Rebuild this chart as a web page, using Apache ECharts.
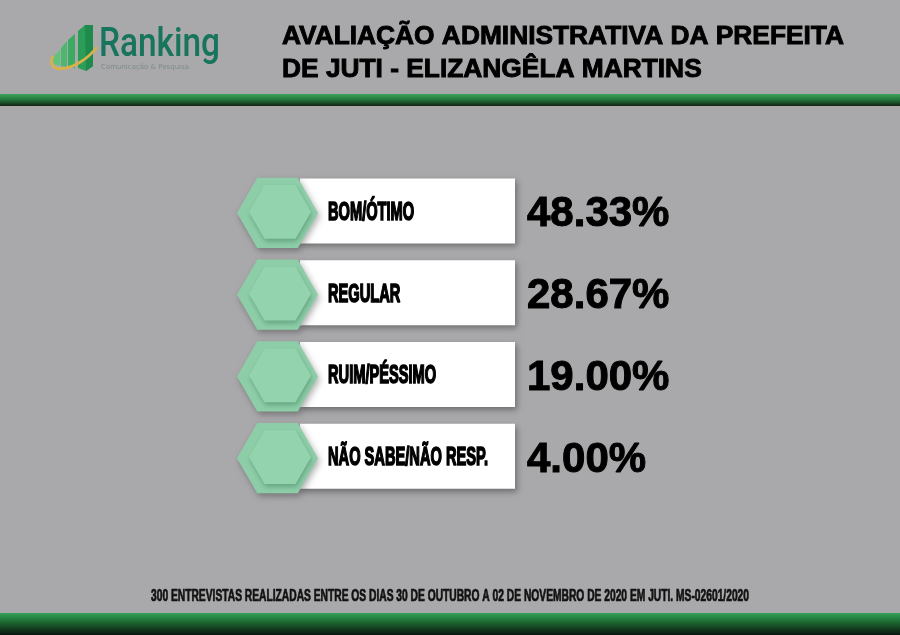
<!DOCTYPE html>
<html><head><meta charset="utf-8">
<script src="https://cdn.jsdelivr.net/npm/echarts@6/dist/echarts.min.js"></script>
<style>html,body{margin:0;padding:0;background:#a9a9ab}#c{width:900px;height:635px}</style>
</head><body><div id="c"></div>
<script>
var categories = ['BOM/ÓTIMO', 'REGULAR', 'RUIM/PÉSSIMO', 'NÃO SABE/NÃO RESP.'];
var values = [48.33, 28.67, 19.00, 4.00];
var titleLines = ['AVALIAÇÃO ADMINISTRATIVA DA PREFEITA', 'DE JUTI - ELIZANGÊLA MARTINS'];
var footerText = '300 ENTREVISTAS REALIZADAS ENTRE OS DIAS 30 DE OUTUBRO A 02 DE NOVEMBRO DE 2020 EM JUTI. MS-02601/2020';

var measureCtx = document.createElement('canvas').getContext('2d');
function fitScale(text, font, target) {
  measureCtx.font = font;
  return target / measureCtx.measureText(text).width;
}

var LABEL_FONT = 'bold 25px "Liberation Sans", Arial, sans-serif';
var labelScale = fitScale('NÃO SABE/NÃO RESP.', LABEL_FONT, 160);
var FOOT_FONT = 'bold 16px "Liberation Sans", Arial, sans-serif';
var footScale = fitScale(footerText, FOOT_FONT, 598);
var LOGO_FONT = '500 40px Roboto, "Open Sans", sans-serif';
var logoScale = fitScale('Ranking', LOGO_FONT, 121);
var TITLE_FONT = 'bold 26px "Liberation Sans", Arial, sans-serif';
var titleScale = fitScale(titleLines[0], TITLE_FONT, 562);

var chart = echarts.init(document.getElementById('c'));

function hexPoints(cx, cy, r) {
  var pts = [];
  for (var i = 0; i < 6; i++) {
    var a = Math.PI / 3 * i;
    pts.push([cx + r * Math.cos(a), cy + r * Math.sin(a)]);
  }
  return pts;
}

function renderItem(params, api) {
  var idx = api.value(0);
  var pt = api.coord([0, idx]);
  var cy = pt[1];
  var boxL = 300, boxR = 515, boxH = 65;
  var children = [];
  children.push({
    type: 'rect',
    shape: { x: boxL, y: cy - boxH / 2, width: boxR - boxL, height: boxH },
    style: { fill: '#ffffff', shadowBlur: 6, shadowOffsetX: 2, shadowOffsetY: 3, shadowColor: 'rgba(0,0,0,0.35)' }
  });
  children.push({
    type: 'polygon',
    shape: { points: hexPoints(277.5, cy + 2, 40.5) },
    style: { fill: '#8dcea8', shadowBlur: 6, shadowOffsetX: 2, shadowOffsetY: 3, shadowColor: 'rgba(0,0,0,0.3)' }
  });
  children.push({
    type: 'polygon',
    shape: { points: hexPoints(280, cy + 1, 31) },
    style: { fill: '#93d3ad', shadowBlur: 5, shadowOffsetX: 1, shadowOffsetY: 3, shadowColor: 'rgba(30,90,60,0.35)' }
  });
  children.push({
    type: 'text',
    x: 328, y: cy + 2, scaleX: labelScale,
    style: {
      text: categories[idx], x: 0, y: 0, verticalAlign: 'middle', align: 'left',
      fill: '#000', stroke: '#000', lineWidth: 1.6, font: LABEL_FONT
    }
  });
  children.push({
    type: 'text',
    style: {
      text: api.value(1).toFixed(2) + '%', x: 527, y: cy + 4, verticalAlign: 'middle', align: 'left',
      fill: '#000', stroke: '#000', lineWidth: 1, font: 'bold 42px "Liberation Sans", Arial, sans-serif'
    }
  });
  return { type: 'group', children: children };
}

var data = values.map(function (v, i) { return [i, v]; });

chart.setOption({
  backgroundColor: '#a9a9ab',
  animation: false,
  grid: { left: 0, right: 0, top: 170, bottom: 138 },
  xAxis: { type: 'value', min: 0, max: 900, show: false },
  yAxis: { type: 'category', data: categories, inverse: true, show: false },
  series: [{
    type: 'custom',
    renderItem: renderItem,
    encode: { y: 0, x: 1 },
    data: data
  }],
  graphic: [
    { type: 'rect', shape: { x: 0, y: 94, width: 900, height: 12 },
      style: { fill: new echarts.graphic.LinearGradient(0, 0, 0, 1, [
        { offset: 0, color: '#3fa35a' }, { offset: 0.45, color: '#237a3c' }, { offset: 1, color: '#0f2414' }]) } },
    { type: 'rect', shape: { x: 0, y: 613, width: 900, height: 22 },
      style: { fill: new echarts.graphic.LinearGradient(0, 0, 0, 1, [
        { offset: 0, color: '#35a256' }, { offset: 0.4, color: '#1d6a33' }, { offset: 1, color: '#0b150d' }]) } },
    { type: 'text', x: 282, y: 37, scaleX: titleScale, style: { text: titleLines[0], x: 0, y: 0, verticalAlign: 'middle',
      fill: '#000', stroke: '#000', lineWidth: 0.9, font: TITLE_FONT } },
    { type: 'text', x: 282, y: 70, scaleX: titleScale, style: { text: titleLines[1], x: 0, y: 0, verticalAlign: 'middle',
      fill: '#000', stroke: '#000', lineWidth: 0.9, font: TITLE_FONT } },
    { type: 'text', x: 151, y: 597, scaleX: footScale, style: { text: footerText, x: 0, y: 0, align: 'left', verticalAlign: 'middle',
      fill: '#111', stroke: '#111', lineWidth: 0.7, font: FOOT_FONT } },
    // logo bars
    { type: 'polygon', shape: { points: [[52, 58], [60, 50], [60, 66], [54, 64]] }, style: { fill: '#62c27d' } },
    { type: 'polygon', shape: { points: [[61, 48], [67, 41], [67, 67], [61, 66]] }, style: { fill: '#4db76e' } },
    { type: 'polygon', shape: { points: [[68, 40], [75, 34], [75, 68], [68, 67]] }, style: { fill: '#3caa63' } },
    { type: 'polygon', shape: { points: [[78, 31], [85, 25], [93, 25], [93, 66], [86, 71], [78, 68]] }, style: { fill: '#2c9d58' } },
    { type: 'polygon', shape: { points: [[85, 25], [93, 25], [93, 66], [86, 71]] }, style: { fill: '#1e8a4b' } },
    // gold swoosh
    { type: 'bezierCurve', shape: { x1: 53, y1: 56, x2: 97, y2: 47, cpx1: 44, cpy1: 76, cpx2: 78, cpy2: 72 },
      style: { stroke: '#d8b14a', lineWidth: 2.8, fill: null } },
    // logo text
    { type: 'text', x: 99, y: 46, scaleX: logoScale, style: { text: 'Ranking', x: 0, y: 0, verticalAlign: 'middle',
      fill: '#17745d', font: LOGO_FONT } },
    { type: 'text', style: { text: 'Comunicação & Pesquisa', x: 101, y: 67, verticalAlign: 'middle',
      fill: '#7d8c87', font: '7px "DejaVu Sans", sans-serif' } }
  ]
});
</script>
</body></html>
